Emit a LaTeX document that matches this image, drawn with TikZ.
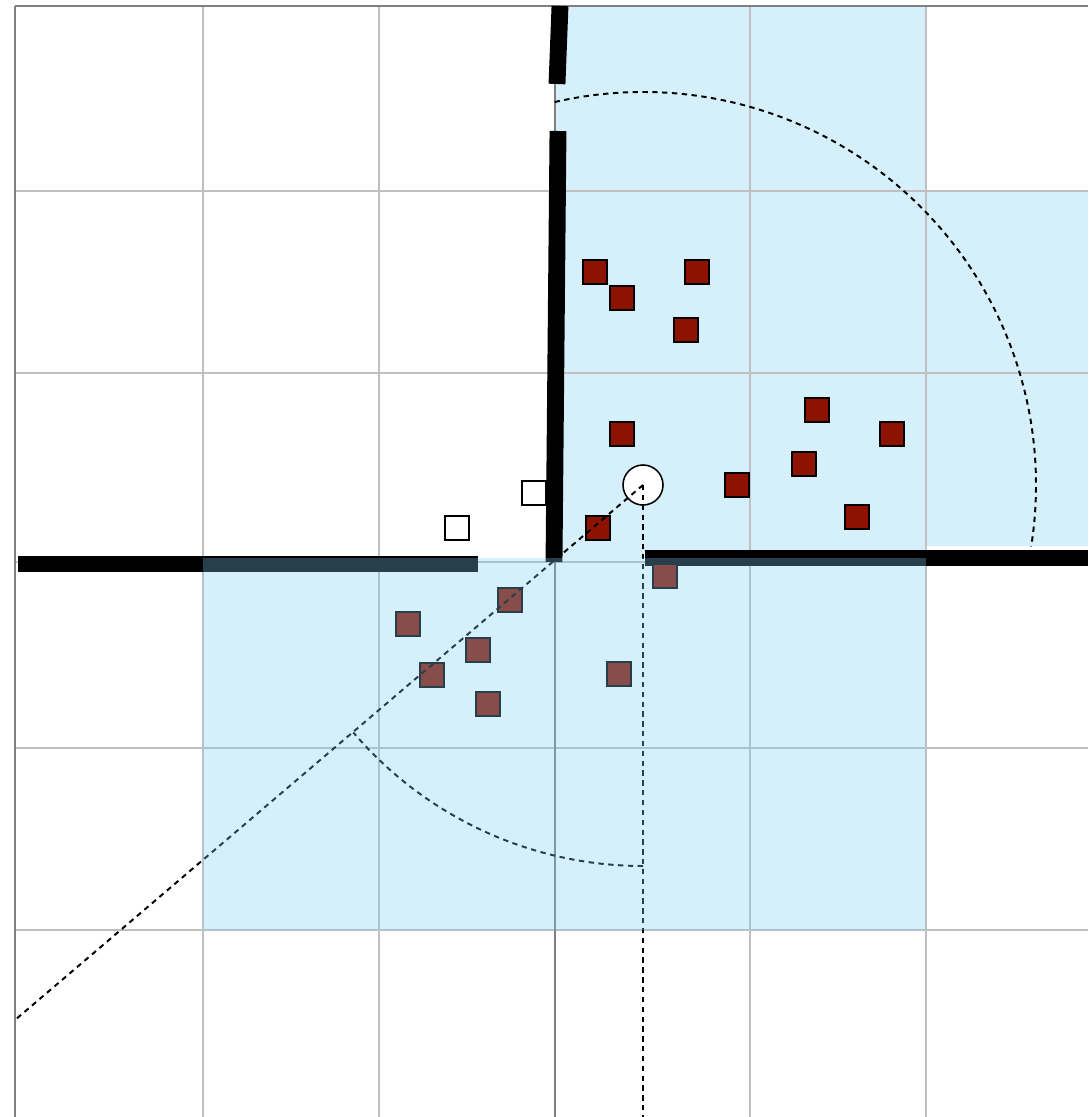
\documentclass[tikz,border=0pt]{standalone}
\usepackage{tikz}
\definecolor{CellBlue}{RGB}{214, 240, 251}
\definecolor{ShadeBlue}{RGB}{123, 206, 242}
\definecolor{GridGrey}{RGB}{192, 192, 192}
\definecolor{AxisGrey}{RGB}{128, 128, 128}
\definecolor{HitRed}{RGB}{142, 18, 0}

\begin{document}
\begin{tikzpicture}[
        x = 0.025cm, y = -0.025cm,
        gridline/.style = {GridGrey, line width = 1.4pt},
        axisline/.style = {AxisGrey, line width = 1.1pt},
        wall/.style = {black, line width = 12pt},
        hit/.style = {draw, fill = HitRed, line width = 1pt, minimum size = 0.6cm, inner sep = 0pt},
        free/.style = {draw, fill = white, line width = 1pt, minimum size = 0.6cm, inner sep = 0pt},
        ray/.style = {line width = 1.4pt, dash pattern = on 3.8pt off 3.2pt}
    ]
        \useasboundingbox (0, 0) rectangle (1088, 1117);

        \fill[CellBlue] (555, 6) rectangle (926, 558);
        \fill[CellBlue] (926, 191) rectangle (1088, 546);

        \draw[gridline]
            (203, 6) -- (203, 1117) (379, 6) -- (379, 1117)
            (750, 6) -- (750, 1117) (926, 6) -- (926, 1117)
            (15, 191) -- (1088, 191) (15, 373) -- (1088, 373)
            (15, 562) -- (1088, 562) (15, 748) -- (1088, 748)
            (15, 930) -- (1088, 930);
        \draw[axisline] (15, 6) -- (1088, 6) (15, 6) -- (15, 1117) (555, 6) -- (555, 1117);

        \draw[wall] (560, 6) -- (557, 84);
        \draw[wall] (558, 131) -- (554, 562);
        \draw[wall] (18, 564) -- (478, 564);
        \draw[wall] (645, 558) -- (1088, 558);

        \node[hit] (h1) at (595, 272) {};
        \node[hit] (h2) at (697, 272) {};
        \node[hit] (h3) at (622, 298) {};
        \node[hit] (h4) at (686, 330) {};
        \node[hit] (h5) at (622, 434) {};
        \node[hit] (h6) at (817, 410) {};
        \node[hit] (h7) at (892, 434) {};
        \node[hit] (h8) at (804, 464) {};
        \node[hit] (h9) at (737, 485) {};
        \node[hit] (h10) at (857, 517) {};
        \node[hit] (h11) at (598, 528) {};
        \node[hit] (h12) at (665, 576) {};
        \node[hit] (h13) at (510, 600) {};
        \node[hit] (h14) at (408, 624) {};
        \node[hit] (h15) at (478, 650) {};
        \node[hit] (h16) at (432, 675) {};
        \node[hit] (h17) at (619, 674) {};
        \node[hit] (h18) at (488, 704) {};

        \node[free] (f1) at (534, 493) {};
        \node[free] (f2) at (457, 528) {};

        \node[draw, fill = white, circle, line width = 1.1pt, minimum size = 1cm, inner sep = 0pt] (robot) at (643, 485) {};

        \draw[ray] (robot.center) ++(-103:393) arc[start angle = -103, end angle = 9, radius = 393];

        \coordinate (diagend) at (15, 1020);
        \coordinate (downend) at (643, 1117);
        \draw[ray] (robot.center) -- (diagend);
        \draw[ray] (robot.center) -- (downend);
        \draw[ray] (robot.center) ++(90:381) arc[start angle = 90, end angle = 139.5, radius = 381];

        \fill[ShadeBlue, fill opacity = 0.31] (203, 558) rectangle (926, 930);
    \end{tikzpicture}
\end{document}
